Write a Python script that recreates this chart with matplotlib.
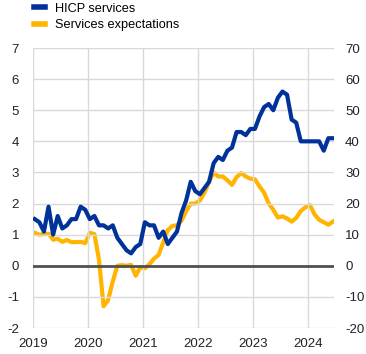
import numpy as np
import matplotlib
matplotlib.use('Agg')
import matplotlib.pyplot as plt

plt.rcParams['font.family'] = ['Liberation Sans', 'DejaVu Sans']
plt.rcParams['font.size'] = 9
plt.rcParams['axes.unicode_minus'] = False

# Data: monthly, Jan 2019 - Jun 2024
anos = [2019, 2020, 2021, 2022, 2023, 2024]
hicp_servicos = [
    1.5, 1.4, 1.1, 1.9, 1.0, 1.6, 1.2, 1.3, 1.5, 1.5, 1.9, 1.8,
    1.5, 1.6, 1.3, 1.3, 1.2, 1.3, 0.9, 0.7, 0.5, 0.4, 0.6, 0.7,
    1.4, 1.3, 1.3, 0.9, 1.1, 0.7, 0.9, 1.1, 1.7, 2.1, 2.7, 2.4,
    2.3, 2.5, 2.7, 3.3, 3.5, 3.4, 3.7, 3.8, 4.3, 4.3, 4.2, 4.4,
    4.4, 4.8, 5.1, 5.2, 5.0, 5.4, 5.6, 5.5, 4.7, 4.6, 4.0, 4.0,
    4.0, 4.0, 4.0, 3.7, 4.1, 4.1,
]
expectativas = [
    10.6, 10.0, 10.2, 10.3, 8.4, 8.7, 7.7, 8.3, 7.6, 7.6, 7.7, 7.3,
    10.6, 10.2, 2.0, -13.0, -11.0, -5.0, 0.0, 0.2, 0.0, 0.3, -3.2, -0.5,
    -0.8, 0.5, 2.3, 3.5, 7.5, 11.5, 12.8, 13.0, 14.5, 17.5, 20.0, 20.0,
    21.0, 23.5, 27.0, 30.0, 28.7, 28.7, 27.5, 26.0, 28.5, 29.8, 28.7, 28.0,
    27.8, 25.5, 23.5, 20.0, 18.0, 15.5, 15.9, 15.2, 14.2, 15.4, 17.6, 18.8,
    19.5, 16.5, 14.8, 14.0, 13.2, 14.2,
]

azul = '#003299'
amarelo = '#ffb400'

meses = 2019 + (np.arange(len(hicp_servicos)) + 0.4) / 12

fig = plt.figure(figsize=(3.66, 3.54), dpi=100)
ax = fig.add_axes([0.09, 0.0734, 0.8226, 0.791])
ax2 = ax.twinx()

ax.set_ylim(-2, 7)
ax2.set_ylim(-20, 70)
ax.set_xlim(2019, 2024.47)

ax.set_yticks(range(-2, 8))
ax2.set_yticks(range(-20, 80, 10))
ax.set_xticks(anos)
ax.set_xticklabels([str(a) for a in anos])

ax.grid(True, color='#d9d9d9', linewidth=1)
ax.set_axisbelow(True)
ax.axhline(0, color='#505050', linewidth=2, zorder=1)

for a in (ax, ax2):
    for s in a.spines.values():
        s.set_visible(False)
    a.tick_params(length=0, labelsize=9.5, colors='#222222')
ax.tick_params(axis='y', pad=10)
ax2.tick_params(axis='y', pad=8)
ax.tick_params(axis='x', pad=7)

ax2.plot(meses, expectativas, color=amarelo, linewidth=3, solid_joinstyle='round', zorder=2)
ax.set_zorder(ax2.get_zorder() + 1)
ax.patch.set_visible(False)
ax.plot(meses, hicp_servicos, color=azul, linewidth=3, solid_joinstyle='round', zorder=3)

# Legend
l1, = ax.plot([], [], color=azul, linewidth=4)
l2, = ax.plot([], [], color=amarelo, linewidth=4)
fig.legend([l1, l2], ['HICP services', 'Services expectations'],
           loc='upper left', bbox_to_anchor=(0.062, 1.025), frameon=False,
           handlelength=0.85, handletextpad=0.75, labelspacing=0.35, fontsize=9.2)

fig.savefig('out.png', dpi=100)
